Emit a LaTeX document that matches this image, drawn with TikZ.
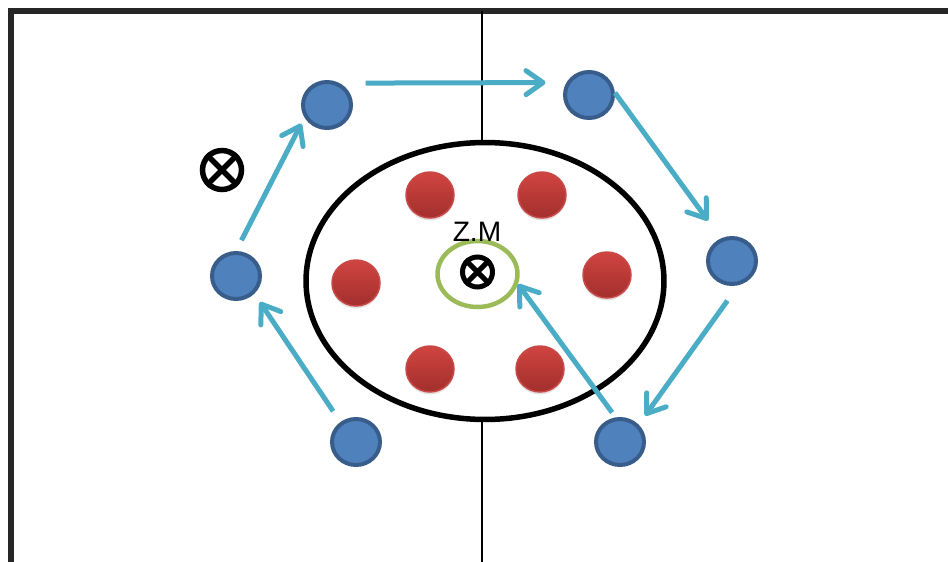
\documentclass[tikz,border=0pt]{standalone}
\usepackage{fontspec}
\setmainfont{Liberation Sans}
\usetikzlibrary{shapes.geometric,arrows.meta,shadows}
\definecolor{playerblue}{HTML}{4F81BD}
\definecolor{playeredge}{HTML}{385D8A}
\definecolor{redtop}{HTML}{D04440}
\definecolor{redbot}{HTML}{A22F2D}
\definecolor{rededge}{HTML}{C84A48}
\definecolor{zonegreen}{HTML}{9BBB59}
\definecolor{runcyan}{HTML}{4BACC6}

\begin{document}
\begin{tikzpicture}[x=0.02cm,y=-0.02cm,
  attacker/.style={ellipse,draw=playeredge,fill=playerblue,line width=0.08cm,
    minimum width=0.96cm,minimum height=0.92cm,inner sep=0pt},
  defender/.style={ellipse,draw=rededge,line width=0.03cm,top color=redtop,bottom color=redbot,
    minimum width=0.96cm,minimum height=0.92cm,inner sep=0pt,
    drop shadow={shadow xshift=0cm,shadow yshift=-0.05cm,opacity=0.22}},
  ring/.style={circle,draw,inner sep=0pt},
  run/.style={runcyan,line width=0.1cm,-{Straight Barb[length=0.34cm,width=0.48cm,round]}}]
  \useasboundingbox (0,0) rectangle (948,562);

  \draw[line width=0.12cm,black!85,line join=miter] (11,562) -- (11,11) -- (948,11);

  \node[ellipse,draw,line width=0.11cm,minimum width=7.16cm,minimum height=5.54cm,
    inner sep=0pt] (field) at (485,281) {};
  \coordinate (midtop) at (482,11);
  \coordinate (midbot) at (482,562);
  \draw[line width=0.9pt] (midtop) -- (midtop |- field.north) (midbot |- field.south) -- (midbot);

  \node[ellipse,draw=zonegreen,line width=0.09cm,minimum width=1.6cm,
    minimum height=1.32cm,inner sep=0pt] (zone) at (477.5,274) {};
  \node[font=\fontsize{16}{19}\selectfont,inner sep=0pt] (zm) at (477,232) {Z.M};

  \node[ring,line width=0.1cm,minimum size=0.6cm] (ball) at (477.5,272) {};
  \draw[line width=0.1cm] (ball.45) -- (ball.225) (ball.135) -- (ball.315);
  \node[ring,line width=0.11cm,minimum size=0.78cm] (mark) at (222,170) {};
  \draw[line width=0.11cm] (mark.45) -- (mark.225) (mark.135) -- (mark.315);

  \foreach \x/\y/\i in {430/195/1,542/195/2,356/283/3,607/275/4,430/369/5,540/369/6} {
    \node[defender] (d\i) at (\x,\y) {};
  }
  \foreach \x/\y/\i in {327/105/1,589/95/2,732/261/3,620/442/4,356/442/5,236/276/6} {
    \node[attacker] (a\i) at (\x,\y) {};
  }

  \draw[run,shorten <=0.24cm,shorten >=0.14cm] (a6.90) -- (a1.209);
  \draw[run,shorten <=0.52cm,shorten >=0.42cm] (a1.60) -- (a2.151);
  \draw[run,shorten >=0.44cm] (a2.5) -- (a3.116);
  \draw[run,shorten <=0.38cm,shorten >=0.22cm] (a3.285) -- (a4.43);
  \draw[run,shorten <=0.12cm] (a4.100) -- (zone.-14);
  \draw[run,shorten <=0.26cm,shorten >=0.2cm] (a5.128) -- (a6.-44);
\end{tikzpicture}
\end{document}
